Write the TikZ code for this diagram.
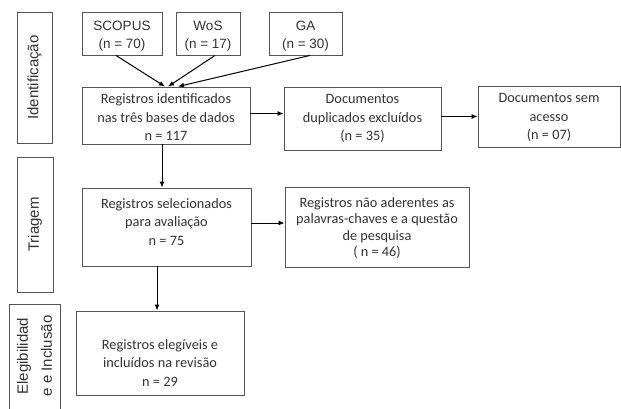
\documentclass[tikz,border=0pt]{standalone}
\usepackage{fontspec}
\setmainfont{Carlito}
\newfontfamily\arialf{Liberation Sans}
\usetikzlibrary{arrows.meta,calc}
\definecolor{boxline}{HTML}{555555}
\definecolor{txt}{HTML}{333333}
\begin{document}
\begin{tikzpicture}[x=1pt,y=-1pt,
  box/.style={draw=boxline,line width=0.9pt,rectangle,inner sep=0pt},
  maintext/.style={align=center,text=txt,font=\fontsize{14.3}{18.5}\selectfont,inner sep=0pt},
  srctext/.style={align=center,text=txt,font=\arialf\fontsize{13.5}{18}\selectfont,inner sep=0pt},
  sidetext/.style={align=center,text=txt,font=\arialf\fontsize{15}{24}\selectfont,inner sep=0pt,rotate=90},
  arr/.style={-{Latex[length=6pt,width=5pt]},line width=1pt,black}]
\useasboundingbox[fill=white] (0,0) rectangle (621,409);
% side labels
\node[box,minimum width=35pt,minimum height=131pt] (side1) at (34.5,77.5) {};
\node[sidetext] (side1t) at (side1.center) {Identificação};
\node[box,minimum width=36pt,minimum height=135pt] (side2) at (35,224.5) {};
\node[sidetext] (side2t) at (side2.center) {Triagem};
\node[box,minimum width=51pt,minimum height=116pt] (side3) at (34.5,362) {};
\node[sidetext] (side3t) at (34.5,356) {Elegibilidad\\e e Inclusão};
% sources
\node[box,minimum width=80pt,minimum height=43pt] (scopus) at (122,33.5) {};
\node[srctext] at ([yshift=-2.5pt]scopus.center) {SCOPUS\\(n = 70)};
\node[box,minimum width=64pt,minimum height=43pt] (wos) at (208,33.5) {};
\node[srctext] at ([yshift=-2.5pt]wos.center) {WoS\\(n = 17)};
\node[box,minimum width=73pt,minimum height=43pt] (ga) at (305.5,33.5) {};
\node[srctext] at ([yshift=-2.5pt]ga.center) {GA\\(n = 30)};
% main boxes
\node[box,minimum width=168pt,minimum height=57pt] (ident) at (166,115.5) {};
\node[maintext] at ([yshift=-2pt]ident.center) {Registros identificados\\nas três bases de dados\\n = 117};
\node[box,minimum width=157pt,minimum height=63pt] (dup) at (362.5,118.5) {};
\node[maintext] at (dup.center) {Documentos\\duplicados excluídos\\(n = 35)};
\node[box,minimum width=142pt,minimum height=61pt] (sem) at (549,116.5) {};
\node[maintext] at ([yshift=-1pt]sem.center) {Documentos sem\\acesso\\(n = 07)};
\node[box,minimum width=169pt,minimum height=78pt] (sel) at (166.5,227) {};
\node[maintext] at ([yshift=5pt]sel.center) {Registros selecionados\\para avaliação\\n = 75};
\node[box,minimum width=184pt,minimum height=80pt] (nao) at (377,227) {};
\node[maintext,font=\fontsize{14.3}{16.5}\selectfont] at ([yshift=-1pt]nao.center) {Registros não aderentes as\\palavras-chaves e a questão\\de pesquisa\\( n = 46)};
\node[box,minimum width=168pt,minimum height=84pt] (eleg) at (160,353) {};
\node[maintext] at ([yshift=-10pt]eleg.center) {Registros elegíveis e\\incluídos na revisão\\n = 29};
% connectors
\draw[arr] ([xshift=-6pt]scopus.south) -- ([xshift=-1pt]ident.north);
\draw[arr] ([xshift=7pt]wos.south) -- ([xshift=2pt]ident.north);
\draw[arr] ([xshift=4.5pt]ga.south) -- ([xshift=12pt]ident.north);
\draw[arr] ([yshift=2pt]ident.east) -- ([yshift=2pt]ident.east -| dup.west);
\draw[arr] ([yshift=2pt]dup.east) -- ([yshift=2pt]dup.east -| sem.west);
\draw[arr] ([xshift=-4pt]ident.south) -- ([xshift=-4pt]ident.south |- sel.north);
\draw[arr] ([yshift=4pt]sel.east) -- ([yshift=4pt]sel.east -| nao.west);
\draw[arr] ([xshift=-9.5pt]sel.south) -- ([xshift=-9.5pt]sel.south |- eleg.north);
\end{tikzpicture}
\end{document}
